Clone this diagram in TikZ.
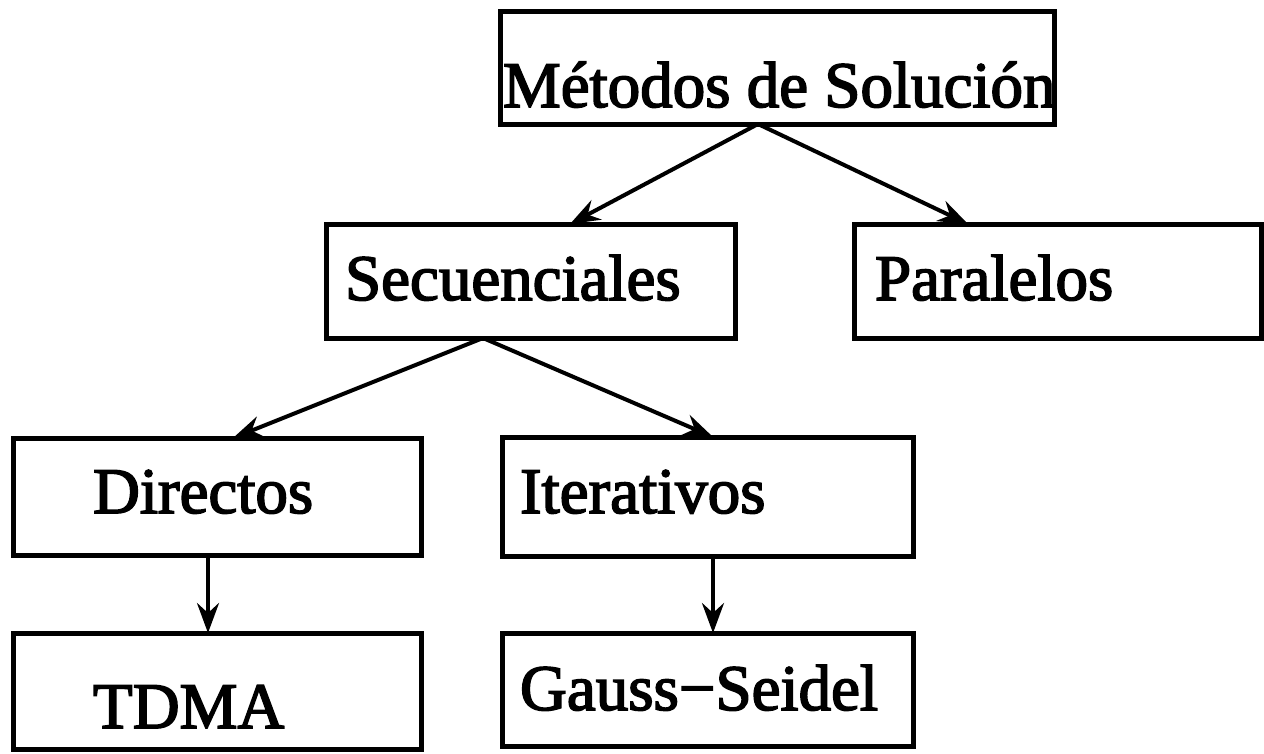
\documentclass[tikz,border=0pt]{standalone}
\usepackage{fontspec}
\setmainfont{Liberation Serif}
\newfontfamily\diagfont[FakeBold=2.5]{Liberation Serif}
\usetikzlibrary{arrows.meta}
\begin{document}
\begin{tikzpicture}[x=1pt,y=-1pt,
  box/.style={draw=black,line width=5pt,rectangle,inner sep=0pt,outer sep=0pt},
  lbl/.style={anchor=base west,inner sep=0pt,outer sep=0pt,font=\diagfont\fontsize{65}{78}\selectfont},
  conn/.style={line width=4pt,-{Stealth[length=30pt,width=22pt,inset=10pt]}}]
\useasboundingbox (0,0) rectangle (1264,753);
% boxes
\node[box,minimum width=554pt,minimum height=113pt] (met) at (777,67.5) {};
\node[box,minimum width=409pt,minimum height=114pt] (sec) at (530.5,281) {};
\node[box,minimum width=407pt,minimum height=114pt] (par) at (1057.5,281) {};
\node[box,minimum width=408pt,minimum height=117pt] (dir) at (217,496.5) {};
\node[box,minimum width=411pt,minimum height=119pt] (ite) at (707.5,496.5) {};
\node[box,minimum width=408pt,minimum height=116pt] (tdma) at (217,691) {};
\node[box,minimum width=411pt,minimum height=113pt] (gs) at (707.5,689.5) {};
% labels
\node[lbl] (tmet) at (503,107) {Métodos de Solución};
\node[lbl] (tsec) at (345,300) {Secuenciales};
\node[lbl] (tpar) at (875,300) {Paralelos};
\node[lbl] (tdir) at (93,513) {Directos};
\node[lbl] (tite) at (520,513) {Iterativos};
\node[lbl] (ttdma) at (93,728) {TDMA};
\node[lbl] (tgs) at (520,710) {Gauss−Seidel};
% connectors
\draw[conn] ([xshift=-19pt]met.south) -- ([xshift=39.5pt]sec.north);
\draw[conn] ([xshift=-19pt]met.south) -- ([xshift=-89.5pt]par.north);
\draw[conn] ([xshift=-47.5pt]sec.south) -- ([xshift=16pt]dir.north);
\draw[conn] ([xshift=-47.5pt]sec.south) -- ([xshift=5.5pt]ite.north);
\draw[conn] ([xshift=-9pt]dir.south) -- ([xshift=-9pt]tdma.north);
\draw[conn] ([xshift=5.5pt]ite.south) -- ([xshift=5.5pt]gs.north);
\end{tikzpicture}
\end{document}
